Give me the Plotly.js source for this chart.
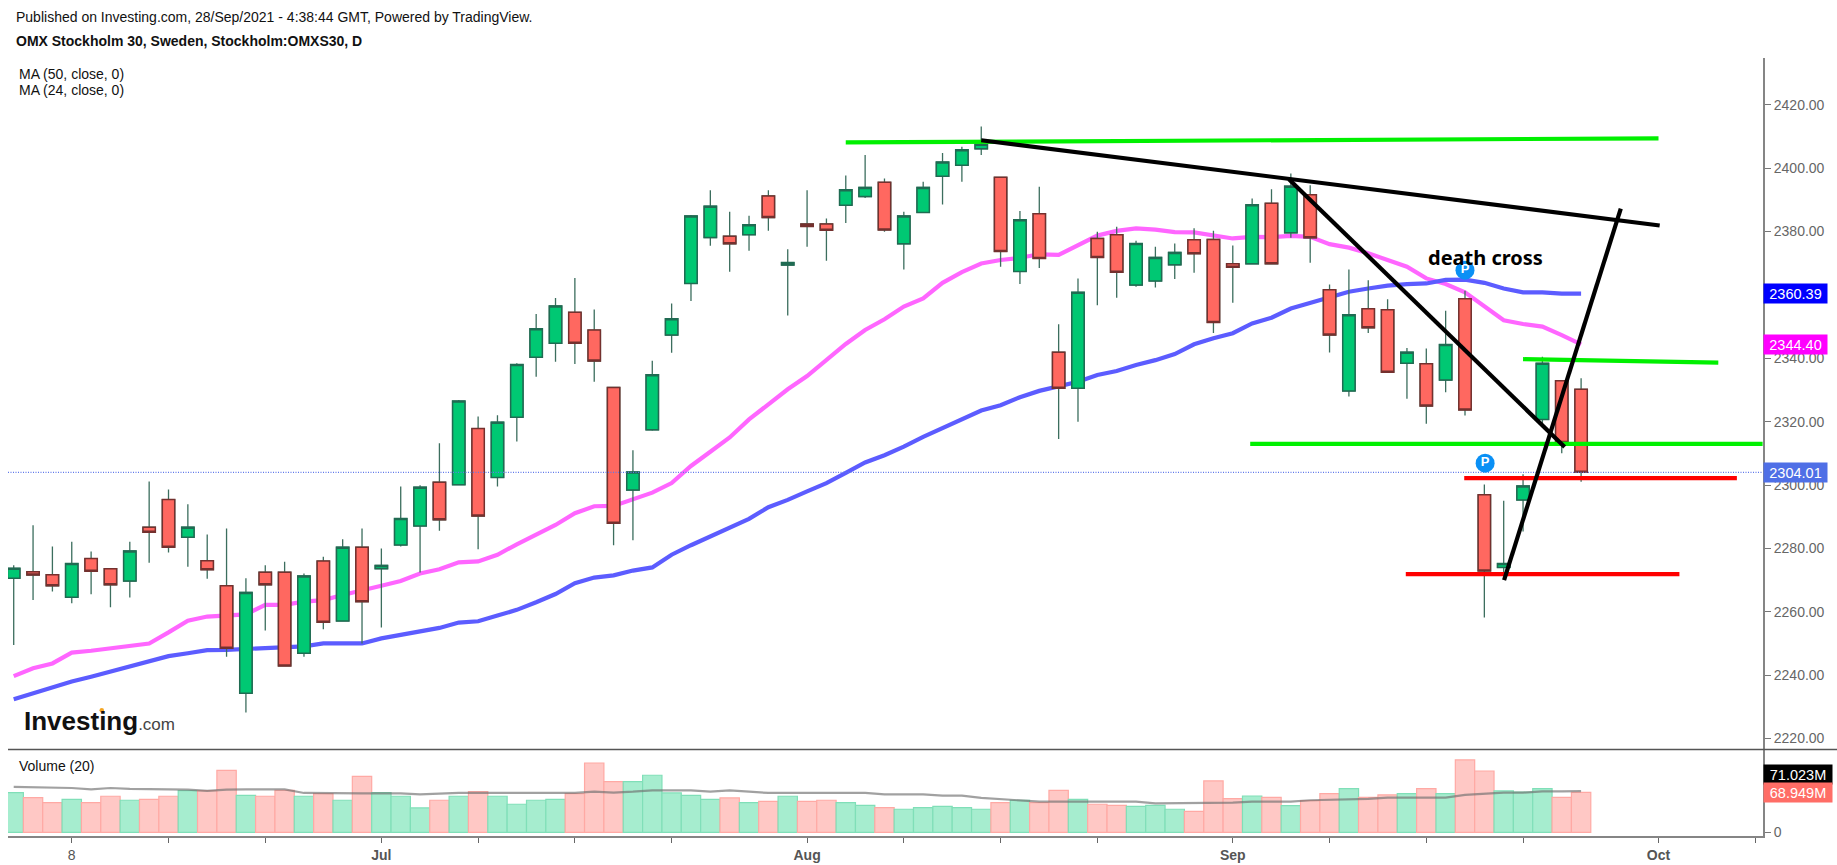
<!DOCTYPE html>
<html><head><meta charset="utf-8">
<script src="https://cdn.plot.ly/plotly-3.0.1.min.js"></script>
<style>html,body{margin:0;padding:0;background:#fff}#c{width:1837px;height:865px}</style></head>
<body><div id="c"></div>
<script>
const opens=[2270.6,2272.6,2271.7,2264.6,2276.8,2273.6,2269.7,2286.7,2295.4,2283.5,
2276.1,2268.2,2234.3,2272.5,2272.5,2246.9,2276,2257.1,2280.4,2273.6,
2281.1,2287.1,2300.9,2300.1,2317.8,2302.4,2321.4,2340.3,2344.7,2354.5,
2348.9,2330.8,2298.4,2317.4,2347.3,2363.6,2378.1,2378.5,2379,2391.2,
2369.4,2382.4,2382.4,2388.3,2391,2395.5,2376.1,2386,2397.4,2400.9,
2406.1,2397.1,2367.4,2385.6,2341.9,2330.5,2377.8,2379,2363.1,2364.4,
2369.5,2377.4,2377.5,2369.8,2369.8,2388.9,2379.6,2391.6,2361.6,2329.7,
2355.6,2355.3,2338.4,2338.3,2333.1,2358.8,2296.9,2274,2295.3,2320.7,
2332.9,2330.2];
const closes=[2273.7,2271.6,2268.2,2275.2,2272.8,2268.5,2279.2,2285.1,2280.4,2286.7,
2273.3,2248.5,2266.1,2268.5,2242.9,2271.3,2256.7,2280.4,2263.2,2274.6,
2289.4,2299.3,2289,2326.5,2290.2,2319.8,2338,2349.3,2356.5,2344.7,
2339.1,2287.9,2304.1,2334.8,2352.5,2384.9,2388,2376.1,2382.1,2384.4,
2370.2,2381.6,2380.4,2393.2,2393.9,2380.5,2384.9,2393.9,2401.9,2405.8,
2407.5,2373.7,2383.7,2371.5,2330.5,2360.8,2371.8,2367.1,2376.2,2371.8,
2373.4,2373,2351.3,2368.7,2388.4,2369.8,2394.3,2378,2347.3,2353.7,
2349.6,2335.6,2341.9,2324.9,2344.3,2323.7,2272.9,2275.2,2299.7,2338.4,
2313.4,2304.01];
const highs=[2274.7,2287.3,2280.6,2282.1,2279,2273.8,2282.1,2301.1,2298.6,2293.9,
2284.4,2286.3,2270.6,2274.7,2275.8,2272.1,2277.4,2282.9,2286.3,2280,
2299.5,2299.9,2313.2,2326.8,2321.6,2322,2338.4,2354,2359,2365.3,
2355.4,2331,2311,2339.2,2357.3,2385.2,2393,2386.2,2385,2393,
2374.4,2393,2384.1,2397.7,2404.1,2396.7,2386.2,2395.7,2404.8,2406.7,
2413.1,2397.3,2386.5,2394.1,2350.7,2365.2,2379.9,2381.5,2377.1,2375.2,
2376.2,2381,2380.2,2375.6,2390.4,2393.3,2398.3,2394.6,2363.3,2368,
2364.6,2358.6,2343.2,2343.1,2355,2361.3,2300.2,2295,2303.4,2340.5,
2333,2333.7];
const lows=[2249.5,2263.7,2266.4,2262.7,2265.5,2261.4,2264.5,2275.5,2278.7,2274.2,
2270.4,2245.8,2228.2,2254.1,2242.7,2245.8,2254.5,2256.9,2250,2255,
2280.6,2272.4,2285.6,2300,2279.7,2299.5,2313.7,2334.2,2338.9,2338.2,
2332.6,2281,2282.6,2317.1,2341.7,2358.1,2375.5,2367.3,2373.9,2380.2,
2353.5,2375.2,2370.8,2382.7,2390.6,2379.9,2368,2386,2388.5,2395.7,
2404.1,2368.9,2363.4,2368.5,2314.5,2320,2356.7,2359.1,2362.6,2362.3,
2365,2367,2348,2357.5,2369.8,2369.8,2378,2370.1,2341.8,2327.9,
2348,2335.5,2327.2,2319.3,2329.3,2321.9,2258.2,2272,2285.3,2318.4,
2310,2301];
const ma24=[2239.7,2242.2,2243.7,2247.1,2247.7,2248.4,2249.2,2250,2253.5,2257.2,
2258.5,2258.8,2259.2,2262.2,2262.2,2263.2,2263.7,2265.3,2266.9,2268.2,
2269.7,2272.1,2273.4,2275.6,2275.9,2278,2281.3,2284.5,2287.4,2291.1,
2293.3,2293.4,2295.6,2297.6,2300.6,2306,2310.5,2315,2320.7,2325.6,
2330.2,2334.4,2339.4,2344.5,2348.9,2352.3,2356.3,2358.9,2363.8,2367.2,
2369.9,2371,2371.7,2372.8,2372.6,2375.7,2378.7,2380.2,2381,2380.6,
2379.8,2379.7,2378.7,2377.8,2378.3,2378.2,2378.6,2378.3,2376,2374.9,
2373.1,2371,2368.9,2365.2,2363.4,2360.8,2356.2,2352,2350.8,2350,
2347.3,2344.4];
const ma50=[2232.4,2234.3,2235.9,2238,2239.5,2241.1,2242.7,2244.6,2246,2246.9,
2247.9,2248,2248.2,2248.7,2248.7,2249.1,2250,2250,2250,2251.6,
2252.7,2253.7,2254.9,2256.6,2257,2258.8,2260.6,2263,2265.6,2269,
2270.8,2271.5,2273,2274,2278,2281,2283.7,2286.4,2289.3,2293,
2295.3,2298,2300.6,2303.8,2307.1,2309.4,2312.1,2315.2,2317.9,2320.5,
2323.5,2325.2,2327.7,2329.7,2331,2332.6,2334.7,2336,2337.9,2339.4,
2341.3,2344.4,2346.3,2347.9,2351,2352.8,2355.7,2357.5,2359.2,2361,
2362,2362.9,2363.4,2363.6,2364.7,2364.8,2363.8,2362,2360.8,2360.8,
2360.4,2360.39];
const volume=[68.4,59.8,51.1,56.9,51.1,62.1,55.2,56.9,62.1,71.8,
71.8,106.9,63.8,62.1,72.4,62.1,66.7,55.2,96.5,68.4,
62.1,42,55.2,62.1,70.1,62.1,48.3,55.2,56.9,66.7,
119.5,87.4,87.4,98.3,67.8,63.8,56.9,59.2,51.1,53.4,
62.1,53.4,55.2,51.1,46.5,42.5,39.7,42.5,44.8,42.5,
39.7,51.1,55.2,51.1,72.4,56.9,48.3,46.5,44.8,46.5,
39.7,36.2,88.5,58,62.6,60.3,46,54.6,66.7,75.3,
60.3,64.4,66.7,75.3,66.7,124.7,105.7,71.3,69.5,75.3,
60.3,68.949];
const volumeMa=[78.2,78,77,76.4,74,76.4,74.7,74,74,73.6,
71.3,73.6,74,73.6,74,67.8,67.2,67.2,67.2,67.2,
67.2,65.5,67.2,67.8,67.8,67.8,67.8,67.8,67.8,67.8,
70,68.4,70,72.4,72.4,72.4,70,72.4,70,67.8,
67.8,67.8,67.8,67.8,67.8,65.5,65.5,65.5,63.2,63.2,
59.2,56.9,55.2,52.9,52.9,52.9,52.9,52.9,52.9,50,
50,50,50,51.1,52.9,52.9,52.9,55.2,55.7,57.5,
57.5,59.8,59.8,59.8,59.8,64.4,66.7,68.4,68.4,70.7,
70.7,71.023];
const barIndex=opens.map((_,i)=>i);
const tickIndex=[3,8,13,19,24,29,34,41,46,51,56,63,68,73,78,85,90];
const tickLabels=['8','','','<b>Jul</b>','','','','<b>Aug</b>','','','','<b>Sep</b>','','','','<b>Oct</b>',''];
const priceTicks=[2220,2240,2260,2280,2300,2320,2340,2360,2380,2400,2420];
const trendLines=[
 {name:'green top',x:[43,85],y:[2408.1,2409.4],c:'#00f000'},
 {name:'green mid',x:[78,88.09],y:[2339.7,2338.6],c:'#00f000'},
 {name:'green low',x:[63.9,90.38],y:[2313,2313],c:'#00f000'},
 {name:'red high',x:[74.96,89.05],y:[2302.2,2302.2],c:'#ff0000'},
 {name:'red low',x:[71.94,86.08],y:[2271.9,2271.9],c:'#ff0000'},
 {name:'black top',x:[50,85.06],y:[2408.8,2381.9],c:'#000'},
 {name:'black down',x:[65.9,80.15],y:[2396.5,2312],c:'#000'},
 {name:'black up',x:[77.02,83.05],y:[2270,2387.2],c:'#000'}];
const pinX=[75,76.04], pinY=[2367.8,2306.9];
const lastClose=2304.01, lastMa50=2360.39, lastMa24=2344.40, lastVol=68.949;

const W=1837,H=865,AX=1763;
const px=x=>x/W, py=y=>1-y/H;
const xRange=[-0.295,90.4];
const FONT='"Liberation Sans",Arial,sans-serif';
const bodyHigh=opens.map((o,i)=>Math.max(o,closes[i]));
const bodyLow=opens.map((o,i)=>Math.min(o,closes[i]));
const wick={line:{color:'#3c6e5e',width:1.3},fillcolor:'#3c6e5e'};

const traces=[
 {type:'scatter',mode:'lines',x:barIndex,y:ma24,xaxis:'x',yaxis:'y',line:{color:'#ff66ff',width:4.2},hoverinfo:'skip'},
 {type:'scatter',mode:'lines',x:barIndex,y:ma50,xaxis:'x',yaxis:'y',line:{color:'#5c5cff',width:4.2},hoverinfo:'skip'},
 {type:'candlestick',x:barIndex,open:opens,high:highs,low:lows,close:closes,xaxis:'x3',yaxis:'y3',whiskerwidth:0,
  increasing:wick,decreasing:wick,hoverinfo:'skip'},
 {type:'candlestick',x:barIndex,open:opens,high:bodyHigh,low:bodyLow,close:closes,xaxis:'x3',yaxis:'y3',whiskerwidth:0,
  increasing:{line:{color:'#1f6b52',width:1.5},fillcolor:'#00c873'},
  decreasing:{line:{color:'#74302e',width:1.5},fillcolor:'#ff6860'},hoverinfo:'skip'},
 {type:'scatter',mode:'lines',x:xRange,y:[lastClose,lastClose],xaxis:'x3',yaxis:'y3',line:{color:'#5f78ea',width:1.2,dash:'1px 1.5px'},hoverinfo:'skip'}
];
trendLines.forEach(t=>traces.push({type:'scatter',mode:'lines',name:t.name,x:t.x,y:t.y,xaxis:'x3',yaxis:'y3',line:{color:t.c,width:4.2},hoverinfo:'skip'}));
traces.push({type:'scatter',mode:'markers+text',x:pinX,y:pinY,text:['P','P'],textposition:'middle center',
 textfont:{family:FONT,size:13,color:'#fff',weight:700},xaxis:'x3',yaxis:'y3',marker:{size:19,color:'#0a90f5'},hoverinfo:'skip'});
traces.push({type:'bar',x:barIndex,y:volume,xaxis:'x2',yaxis:'y2',
 marker:{color:volume.map((_,i)=>closes[i]>=opens[i]?'#a6edcf':'#ffc8c5'),
  line:{color:volume.map((_,i)=>closes[i]>=opens[i]?'#80dfb8':'#ffa9a4'),width:1.2}},hoverinfo:'skip'});
traces.push({type:'scatter',mode:'lines',x:barIndex,y:volumeMa,xaxis:'x2',yaxis:'y2',line:{color:'rgba(110,110,110,0.65)',width:2.2},hoverinfo:'skip'});

const txt=(text,x,y,size,extra)=>Object.assign({text,x:px(x),y:py(y),xref:'paper',yref:'paper',xanchor:'left',yanchor:'middle',showarrow:false,
 font:{family:FONT,size,color:'#111'}},extra||{});
const tag=(text,yval,yref,bg,w)=>({text,x:px(AX),xref:'paper',y:yval,yref,xanchor:'left',yanchor:'middle',showarrow:false,
 bgcolor:bg,width:w,height:19,align:'center',borderpad:0,font:{family:FONT,size:14.5,color:'#fff'}});

const layout={width:W,height:H,margin:{l:0,r:0,t:0,b:0},paper_bgcolor:'#fff',plot_bgcolor:'#fff',showlegend:false,bargap:0,boxgap:0.36,boxgroupgap:0,boxmode:'overlay',
 xaxis:{domain:[px(8),px(AX)],range:xRange,anchor:'y',showgrid:false,zeroline:false,showticklabels:false,ticks:'',showline:false,rangeslider:{visible:false}},
 xaxis3:{overlaying:'x',domain:[px(8),px(AX)],range:xRange,anchor:'y3',visible:false,rangeslider:{visible:false}},
 xaxis2:{domain:[px(8),px(AX)],range:xRange,anchor:'y2',showgrid:false,zeroline:false,showline:true,linecolor:'#858585',linewidth:2,
  ticks:'outside',ticklen:5,tickcolor:'#666',tickwidth:1,tickmode:'array',tickvals:tickIndex,ticktext:tickLabels,
  tickfont:{family:FONT,size:14,color:'#555'}},
 yaxis:{domain:[py(749),py(57.5)],range:[2216.7,2434.9],anchor:'x',side:'right',showgrid:false,zeroline:false,showline:true,linecolor:'#858585',linewidth:2,
  ticks:'outside',ticklen:6,tickcolor:'#777',tickmode:'array',tickvals:priceTicks,ticktext:priceTicks.map(v=>v.toFixed(2)),
  tickfont:{family:FONT,size:14,color:'#666'}},
 yaxis3:{overlaying:'y',range:[2216.7,2434.9],anchor:'x3',side:'right',visible:false},
 yaxis2:{domain:[py(836),py(749)],range:[-6.4,143.6],anchor:'x2',side:'right',showgrid:false,zeroline:false,showline:true,linecolor:'#858585',linewidth:2,
  ticks:'outside',ticklen:6,tickcolor:'#777',tickmode:'array',tickvals:[0,100],ticktext:['0',''],
  tickfont:{family:FONT,size:14,color:'#666'}},
 shapes:[
  {type:'line',xref:'paper',yref:'paper',x0:px(8),x1:1,y0:py(749.5),y1:py(749.5),line:{color:'#555',width:1.4}},
  {type:'circle',xref:'paper',yref:'paper',x0:px(99.5),x1:px(104),y0:py(712.5),y1:py(708),fillcolor:'#f5a623',line:{width:0}}
 ],
 annotations:[
  txt('Published on Investing.com, 28/Sep/2021 - 4:38:44 GMT, Powered by TradingView.',14,17.5,14),
  txt('<b>OMX Stockholm 30, Sweden, Stockholm:OMXS30, D</b>',14,41,14),
  txt('MA (50, close, 0)',16.5,73.5,14),
  txt('MA (24, close, 0)',16.5,90.5,14),
  txt('Volume (20)',16.5,765.5,14),
  txt('death cross',1426,257,20,{font:{family:'"Noto Sans",sans-serif',size:20,color:'#000',weight:700}}),
  txt('<b>Investing</b><span style="font-size:17px;fill:#444">.com</span>',22,721,26),
  tag(lastMa50.toFixed(2),lastMa50,'y','#0000ff',63),
  tag(lastMa24.toFixed(2),lastMa24,'y','#ff00ff',63),
  tag(lastClose.toFixed(2),lastClose,'y','#4f6fe6',63),
  tag('71.023M',100,'y2','#000',68),
  tag(lastVol.toFixed(3)+'M',lastVol,'y2','#ff6d66',68)
 ]
};
Plotly.newPlot('c',traces,layout,{displayModeBar:false,staticPlot:true});
</script></body></html>
